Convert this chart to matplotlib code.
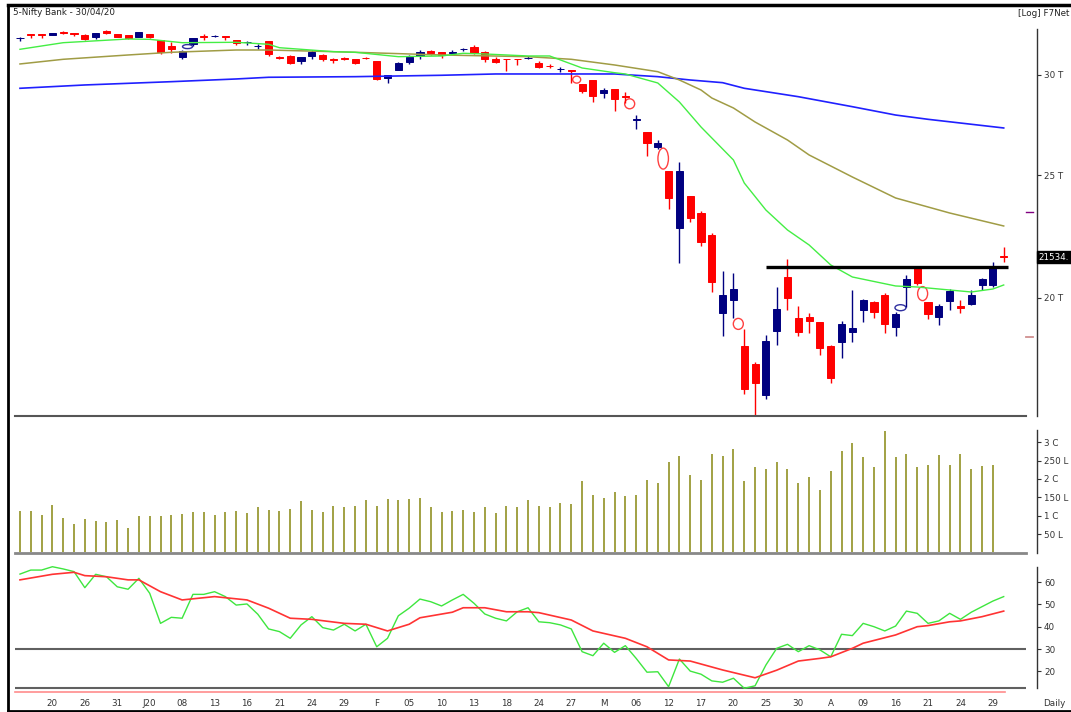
import numpy as np
import matplotlib
matplotlib.use('Agg')
import matplotlib.pyplot as plt
import matplotlib.transforms as mtransforms
from matplotlib.patches import Ellipse
from matplotlib.lines import Line2D

# ---- data (Nifty Bank, daily, Dec 2019 - Apr 2020) ----
opens = [32080, 32310, 32300, 32260, 32420, 32370, 32290, 32150, 32500, 32320,
         32240, 32160, 32320, 31970, 31630, 31020, 31760, 32200, 32200, 32180,
         31950, 31850, 31610, 31920, 30990, 31070, 30770, 31030, 31130, 30870,
         30920, 30880, 30940, 30750, 29840, 30290, 30730, 31070, 31360, 31260,
         31250, 31460, 31580, 31260, 30900, 30910, 30890, 30920, 30680, 30490,
         30320, 30250, 29510, 29730, 29060, 29230, 28880, 27630, 27060, 26330,
         25180, 22725, 24075, 23355, 22430, 19470, 19930, 18330, 17730, 16776,
         18825, 20790, 19276, 19335, 19137, 18340, 18473, 18812, 19568, 19866,
         20110, 18977, 20393, 21150, 19843, 19333, 19890, 19712, 19792, 20479,
         20479, 21570]
closes = [32100, 32290, 32280, 32380, 32400, 32350, 32010, 32380, 32360, 32150,
          32070, 32420, 32120, 31260, 31440, 31360, 32090, 32170, 32220, 32160,
          31820, 31870, 31630, 31160, 30960, 30680, 31010, 31260, 30870, 30850,
          30900, 30660, 30920, 29800, 30000, 30680, 30990, 31300, 31210, 31090,
          31270, 31480, 31250, 30870, 30720, 30890, 30870, 30940, 30460, 30470,
          30340, 30230, 29150, 28880, 29190, 28700, 28840, 27670, 26490, 26520,
          23980, 25180, 23120, 22155, 20600, 20110, 20330, 16960, 17145, 18507,
          19614, 19990, 18812, 19192, 18253, 17283, 19067, 18950, 19927, 19507,
          19077, 19417, 20692, 20542, 19427, 19712, 20256, 19630, 20110, 20692,
          21130, 21534]
highs = [32150, 32310, 32300, 32400, 32500, 32370, 32310, 32400, 32560, 32340,
         32260, 32440, 32330, 31990, 31830, 31380, 32100, 32310, 32290, 32180,
         31970, 31890, 31750, 31940, 31040, 31100, 31020, 31400, 31150, 30960,
         30990, 30900, 31000, 30770, 30010, 30700, 31120, 31400, 31380, 31280,
         31400, 31530, 31670, 31350, 30990, 30910, 30890, 31040, 30760, 30600,
         30460, 30250, 29520, 29740, 29280, 29250, 29080, 27920, 27070, 26680,
         25190, 25620, 24080, 23430, 22520, 21010, 20930, 18900, 17815, 18700,
         20394, 21460, 19712, 19455, 19150, 18350, 19180, 20293, 19963, 19880,
         20170, 19507, 20855, 21200, 19860, 19784, 20319, 19927, 20293, 20730,
         21364, 21956]
lows = [31920, 32090, 32100, 32240, 32310, 32230, 31990, 32030, 32340, 32130,
        32030, 32130, 32100, 31170, 31210, 30870, 31640, 31970, 32150, 31970,
        31690, 31690, 31440, 31070, 30900, 30610, 30610, 30900, 30780, 30670,
        30830, 30630, 30870, 29730, 29590, 30250, 30620, 30870, 31120, 30930,
        31150, 31350, 31160, 30740, 30660, 30240, 30550, 30860, 30390, 30360,
        30160, 29590, 29010, 28550, 28790, 28110, 28500, 27180, 25910, 26240,
        23500, 21330, 22980, 21990, 20230, 18660, 19276, 16800, 16140, 16636,
        18363, 19568, 18667, 18778, 18030, 17146, 17943, 18473, 19157, 19276,
        18778, 18667, 19687, 20479, 19240, 19043, 19568, 19473, 19756, 20293,
        20393, 21364]

# volume in lakh shares
volume = [113.5, 113.5, 102.6, 129.8, 93.6, 78.1, 90.9, 86.3, 83.6, 89.0,
          67.2, 98.2, 99.9, 98.2, 102.6, 105.3, 110.8, 110.8, 101.0, 110.8,
          113.5, 108.1, 122.7, 116.2, 113.5, 118.1, 140.7, 116.2, 110.8, 125.5,
          123.6, 125.5, 142.6, 125.5, 145.3, 142.6, 145.3, 147.2, 122.7, 110.8,
          113.5, 116.2, 110.8, 122.7, 108.1, 125.5, 122.7, 142.6, 126.3, 122.7,
          135.3, 131.7, 195.2, 156.2, 148.9, 164.4, 153.5, 156.2, 197.0, 188.0,
          246.0, 263.2, 209.8, 197.0, 267.8, 262.4, 280.6, 195.2, 231.6, 226.2,
          246.0, 226.2, 188.0, 204.4, 170.7, 221.6, 275.2, 296.9, 258.8, 232.4,
          329.6, 258.8, 267.8, 231.6, 238.7, 265.0, 238.7, 267.8, 226.2, 234.3,
          238.7, 2.0]

rsi = [63.6, 65.4, 65.4, 66.9, 65.9, 64.7, 57.5, 63.5, 62.4, 57.9,
       56.8, 61.7, 55.0, 41.5, 44.2, 43.8, 54.5, 54.5, 55.7, 53.5,
       49.7, 50.2, 45.6, 39.0, 37.8, 34.8, 40.8, 44.5, 39.6, 38.5,
       41.1, 38.1, 41.1, 31.0, 34.8, 44.9, 48.3, 52.4, 51.2, 49.3,
       52.0, 54.5, 50.5, 45.7, 43.8, 42.6, 46.7, 48.5, 42.2, 41.8,
       40.8, 39.0, 28.8, 27.0, 32.6, 28.5, 31.5, 25.8, 19.6, 19.8,
       13.1, 25.5, 20.1, 18.7, 15.7, 15.1, 16.9, 12.4, 13.5, 22.8,
       30.3, 32.1, 28.8, 31.5, 29.6, 26.5, 36.6, 36.0, 41.5, 40.0,
       38.1, 40.3, 47.0, 46.0, 41.5, 42.6, 46.0, 43.3, 46.5, 49.0,
       51.5, 53.5]
rsi_avg_bar = [0, 3, 5, 6, 8, 10, 11, 13, 15, 18, 21, 23, 25, 27, 30, 32, 34, 36,
               37, 40, 41, 43, 45, 47, 48, 51, 53, 56, 58, 60, 62, 65, 68, 70,
               72, 74, 75, 77, 78, 81, 83, 84, 86, 87, 89, 91]
rsi_avg = [61.0, 63.5, 64.4, 62.9, 62.4, 61.0, 61.0, 55.7, 52.0, 53.5, 52.0, 48.3,
           43.8, 43.3, 41.5, 41.1, 38.1, 41.1, 44.0, 46.5, 48.5, 48.5, 46.7, 46.7,
           46.3, 43.0, 38.1, 34.8, 31.0, 25.1, 24.6, 20.6, 17.1, 20.5, 24.6, 25.8,
           26.5, 30.3, 32.6, 36.3, 40.0, 40.5, 42.2, 42.6, 44.5, 47.0]

# moving averages, sampled at bar positions
ma_short_bar = [0, 4, 10, 12, 15, 20, 23, 24, 29, 31, 35, 39, 41, 43, 47, 49, 50, 52,
                55, 56, 59, 61, 63, 66, 67, 69, 71, 73, 75, 77, 81, 83, 86, 88, 90, 91]
ma_short = [31435, 31815, 32030, 32010, 31815, 31838, 31723, 31527, 31299, 31265,
            31016, 31056, 31209, 31169, 31056, 31056, 30830, 30385, 30126, 30055,
            29568, 28563, 27294, 25704, 24652, 23470, 22632, 22024, 21238, 20779,
            20442, 20404, 20293, 20220, 20330, 20479]
ma_mid_bar = [0, 4, 10, 14, 20, 23, 29, 31, 39, 47, 51, 55, 59, 61, 63, 64, 66, 68,
              71, 73, 77, 81, 86, 91]
ma_mid = [30608, 30869, 31112, 31265, 31395, 31395, 31299, 31265, 31112, 31016,
          30869, 30552, 30181, 29729, 29193, 28770, 28253, 27543, 26656, 25940,
          24922, 23989, 23343, 22798]
ma_long_bar = [0, 6, 14, 20, 23, 31, 39, 44, 55, 59, 62, 65, 67, 72, 77, 81, 84, 91]
ma_long = [29284, 29461, 29638, 29784, 29876, 29909, 29985, 30056, 30056, 29909,
           29729, 29584, 29284, 28840, 28320, 27894, 27678, 27245]

# hollow pattern markers (bar position, price)
mark_bar = [15.5, 51.5, 56.4, 59.5, 66.45, 81.45, 83.5]
mark_price = [31590, 29750, 28470, 25770, 19080, 19650, 20160]
mark_up = [True, False, False, False, False, True, False]

resistance = 21170
resistance_from, resistance_to = 69.0, 91.4
last_close = '21534.'

date_labels = ['20', '26', '31', 'J20', '08', '13', '16', '21', '24', '29',
               'F', '05', '10', '13', '18', '24', '27', 'M', '06', '12',
               '17', '20', '25', '30', 'A', '09', '16', '21', '24', '29']

# ---- layout ----
W, H = 1071, 712
UP, DOWN = '#000080', '#ff0000'
TXT = '#333333'
FS = 6.3
fig = plt.figure(figsize=(W / 100, H / 100), dpi=100)


def panel(top, bottom):
    return fig.add_axes([15 / W, 1 - bottom / H, (1037 - 15) / W, (bottom - top) / H])


ax_p = panel(29, 416)
ax_v = panel(428, 553)
ax_r = panel(565, 692)
xlim = (-0.46, 94.08)
line_end = 93.1

for ax in (ax_p, ax_v, ax_r):
    ax.set_xlim(*xlim)
    ax.set_facecolor('none')
    ax.spines['left'].set_visible(False)
    ax.spines['top'].set_visible(False)
    ax.spines['right'].set_color(TXT)
    ax.spines['right'].set_linewidth(1)
    ax.yaxis.tick_right()
    ax.tick_params(axis='y', direction='out', length=3, width=0.8,
                   colors=TXT, labelsize=FS, pad=2)

# price panel
x = np.arange(len(opens))
o = np.array(opens, float)
c = np.array(closes, float)
cols = np.where(c >= o, UP, DOWN)
ax_p.vlines(x, lows, highs, colors=cols, lw=1)
ax_p.bar(x, np.abs(c - o), bottom=np.minimum(o, c), width=0.66,
         color=cols, edgecolor=cols, linewidth=0.7)

ax_p.plot(ma_long_bar, ma_long, color='#2020ff', lw=1.2)
ax_p.plot(ma_mid_bar, ma_mid, color='#a09c45', lw=1.1)
ax_p.plot(ma_short_bar, ma_short, color='#44ee44', lw=1)
ax_p.hlines(resistance, resistance_from, resistance_to, color='black', lw=2.4)

# marker sizes in pixels (width, height)
mark_size = [(10, 4), (8, 7), (10, 10), (10.5, 21), (10, 11), (11, 6), (10, 14)]
for xb, pr, up, (w, h) in zip(mark_bar, mark_price, mark_up, mark_size):
    tr = fig.dpi_scale_trans + mtransforms.ScaledTranslation(xb, pr, ax_p.transData)
    ax_p.add_patch(Ellipse((0, 0), w / 100, h / 100, transform=tr, fill=False,
                           edgecolor='#3030a0' if up else '#ff4040', lw=1))

ax_p.set_yscale('log')
ax_p.set_ylim(16138, 32617)
ax_p.set_yticks([20000, 25000, 30000])
ax_p.set_yticklabels(['20 T', '25 T', '30 T'])
ax_p.yaxis.set_minor_locator(matplotlib.ticker.NullLocator())
ax_p.set_xticks([])
ax_p.spines['bottom'].set_color('#555555')
ax_p.spines['bottom'].set_linewidth(1.5)
ax_p.spines['bottom'].set_bounds(xlim[0], line_end)
ytr = ax_p.get_yaxis_transform()
ax_p.plot([0.9895, 0.9965], [23390, 23390], color='#800080', lw=1, transform=ytr)
ax_p.plot([0.9895, 0.9965], [18640, 18640], color='#d09090', lw=1.3, transform=ytr)

# volume panel
ax_v.vlines(x, 0, volume, color='#9a9a35', lw=1.3)
ax_v.set_ylim(-1.6, 338.6)
ax_v.set_yticks([50, 100, 150, 200, 250, 300])
ax_v.set_yticklabels(['50 L', '1 C', '150 L', '2 C', '250 L', '3 C'])
ax_v.set_xticks([])
ax_v.spines['right'].set_bounds(-1.6, 333)
ax_v.spines['bottom'].set_color('#888888')
ax_v.spines['bottom'].set_linewidth(2)
ax_v.spines['bottom'].set_bounds(xlim[0], line_end)

# RSI panel
ax_r.hlines([30, 12.5], xlim[0], line_end, color='#606060', lw=1.5)
ax_r.plot(x, rsi, color='#3ee63e', lw=1)
ax_r.plot(rsi_avg_bar, rsi_avg, color='#ff3333', lw=1.2)
ax_r.set_ylim(10.72, 67.67)
ax_r.set_yticks([20, 30, 40, 50, 60])
ax_r.spines['right'].set_bounds(12.5, 66.9)
ax_r.spines['bottom'].set_color('#ff8c8c')
ax_r.spines['bottom'].set_linewidth(1.2)
ax_r.spines['bottom'].set_bounds(xlim[0], 91.1)
ax_r.set_xticks(np.arange(3, 91, 3))
ax_r.set_xticklabels(date_labels)
ax_r.tick_params(axis='x', length=0, pad=4.7, labelsize=FS, colors=TXT)

# texts and frame
fig.text(13 / W, 1 - 12.5 / H, '5-Nifty Bank - 30/04/20', fontsize=FS, va='center', color='#222222')
fig.text(1069 / W, 1 - 13 / H, '[Log] F7Net', fontsize=FS, va='center', ha='right', color='#222222')
fig.text(1043 / W, 1 - 703 / H, 'Daily', fontsize=FS, va='center', color=TXT)
fig.text(1069 / W, 1 - 257 / H, last_close, fontsize=FS, va='center', ha='right', color='white',
         bbox=dict(facecolor='black', edgecolor='black', pad=1.2))

fig.add_artist(Line2D([8 / W, 8 / W], [1 - 710.5 / H, 1 - 5 / H], color='black', lw=2,
                      transform=fig.transFigure))
fig.add_artist(Line2D([8 / W, 1], [1 - 5 / H, 1 - 5 / H], color='black', lw=2.5,
                      transform=fig.transFigure))
fig.add_artist(Line2D([8 / W, 1], [1 - 710.5 / H, 1 - 710.5 / H], color='black', lw=2,
                      transform=fig.transFigure))

fig.savefig('out.png', dpi=100)
